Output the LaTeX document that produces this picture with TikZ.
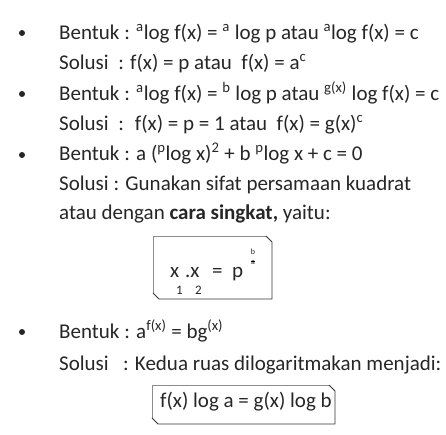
\documentclass[tikz,border=0pt]{standalone}
\usepackage{fontspec}
\setmainfont{Carlito}
\begin{document}
\begin{tikzpicture}[x=1pt, y=-1pt,
	txt/.style={anchor=base west, inner sep=0pt, text=black!85, font=\fontsize{21}{25}\selectfont},
	dot/.style={circle, fill=black!85, inner sep=0pt, minimum size=6pt},
	sub/.style={anchor=base west, inner sep=0pt, text=black!85, font=\fontsize{13}{15}\selectfont},
	tiny/.style={inner sep=0pt, text=black!85, font=\fontsize{8}{9}\selectfont},
	lite/.style={draw=black!45, line width=0.9pt},
	dark/.style={draw=black!80, line width=0.9pt}]
	\useasboundingbox (0,0) rectangle (446,434);
	% bullets
	\draw (22,33) node [dot] (b1) {};
	\draw (22,94) node [dot] (b2) {};
	\draw (22,155) node [dot] (b3) {};
	\draw (22,332) node [dot] (b4) {};
	% lines of text
	\draw (59,39) node [txt] (l1) {Bentuk : \textsuperscript{a}log f(x) = \textsuperscript{a} log p atau \textsuperscript{a}log f(x) = c};
	\draw (59,69) node [txt] (l2) {Solusi \ : f(x) = p atau \ f(x) = a\textsuperscript{c}};
	\draw (59,100) node [txt] (l3) {Bentuk : \textsuperscript{a}log f(x) = \textsuperscript{b} log p atau \textsuperscript{g(x)} log f(x) = c};
	\draw (59,130) node [txt] (l4) {Solusi \ : \ f(x) = p = 1 atau \ f(x) = g(x)\textsuperscript{c}};
	\draw (59,160) node [txt] (l5) {Bentuk : a (\textsuperscript{p}log x)\textsuperscript{2} + b \textsuperscript{p}log x + c = 0};
	\draw (59,190) node [txt] (l6) {Solusi : Gunakan sifat persamaan kuadrat};
	\draw (59,219) node [txt] (l7) {atau dengan \textbf{cara singkat,} yaitu:};
	\draw (59,338) node [txt] (l8) {Bentuk : a\textsuperscript{f(x)} = bg\textsuperscript{(x)}};
	\draw (59,370) node [txt] (l9) {Solusi \ \ : Kedua ruas dilogaritmakan menjadi:};
	% first box
	\draw[lite] (153,293) -- (153,236) -- (266,236);
	\draw[dark] (266,236) -- (272,242) -- (272,299) -- (159,299) -- (153,293);
	\draw (170,277) node [txt] (x1) {x};
	\draw (185,277) node [txt] (x2) {.x};
	\draw (176,294) node [sub] (s1) {1};
	\draw (195,294) node [sub] (s2) {2};
	\draw (212,277) node [txt] (eq) {=};
	\draw (232,277) node [txt] (p) {p};
	\draw (253,252) node [tiny] (fb) {b};
	\draw (253,263) node [tiny] (fa) {a};
	\draw (fa.north west) -- (fa.north east);
	% second box
	\draw[lite] (152,418) -- (152,385) -- (329,385);
	\draw[dark] (329,385) -- (335,391) -- (335,424) -- (158,424) -- (152,418);
	\draw (160,407) node [txt] (fl) {f(x) log a = g(x) log b};
\end{tikzpicture}
\end{document}
